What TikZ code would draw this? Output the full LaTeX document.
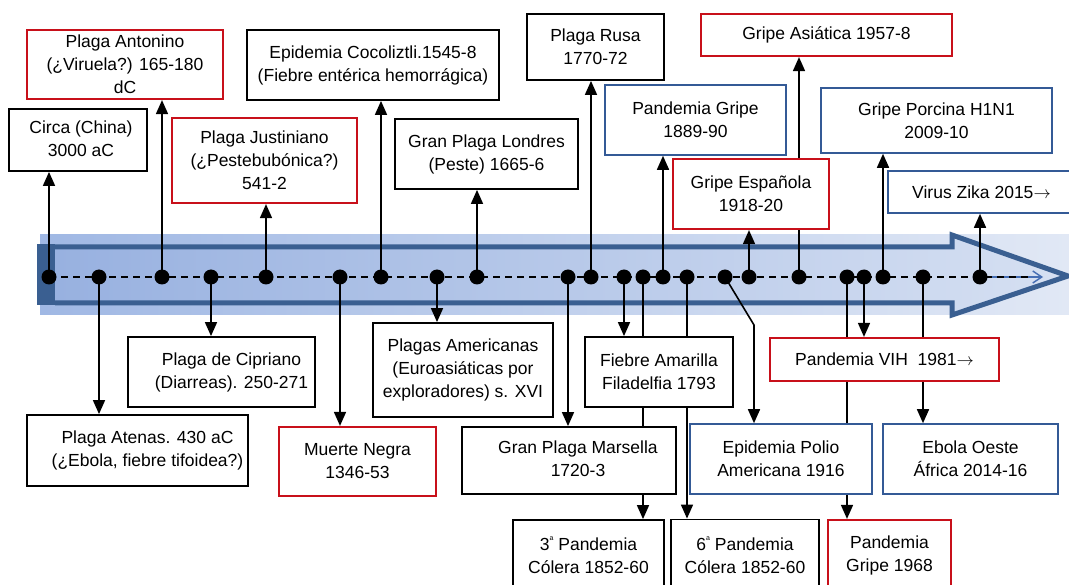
\documentclass[tikz,border=0pt]{standalone}
\usepackage{fontspec}
\setmainfont{Liberation Sans}
\usetikzlibrary{arrows.meta}
\definecolor{rd}{RGB}{200,16,26}
\definecolor{bl}{RGB}{52,90,150}
\definecolor{arrb}{RGB}{58,95,145}
\definecolor{bandL}{RGB}{160,184,228}
\definecolor{bandR}{RGB}{225,232,245}
\definecolor{fillL}{RGB}{152,177,224}
\definecolor{fillR}{RGB}{214,224,242}
\definecolor{tipblue}{RGB}{70,110,180}
\newcommand{\txtshiftright}[2]{\hspace*{#1}\begin{tabular}{@{}c@{}}#2\end{tabular}}
\pgfdeclarelayer{bandlayer}
\pgfdeclarelayer{connlayer}
\pgfsetlayers{bandlayer,connlayer,main}
\begin{document}
\begin{tikzpicture}[x=1pt,y=-1pt,
 box/.style={draw=black, line width=1.8pt, fill=white, align=center, inner sep=0pt, font=\fontsize{17.5}{23}\selectfont},
 rbox/.style={box, draw=rd, line width=2.2pt},
 bbox/.style={box, draw=bl, line width=1.6pt},
 conn/.style={line width=1.6pt, -{Triangle[width=12pt,length=14pt]}},
 dotn/.style={circle, fill=black, minimum size=15pt, inner sep=0pt},
 tline/.style={line width=1.6pt, dash pattern=on 7pt off 5pt}]
\useasboundingbox (0,0) rectangle (1069,585);
% band
\begin{pgfonlayer}{bandlayer}
\shade[left color=bandL, right color=bandR] (40,235) rectangle (1069,315);
\shade[left color=fillL, right color=fillR] (55,247) -- (952,247) -- (952,235) -- (1068,276) -- (952,315) -- (952,303) -- (55,303) -- cycle;
\draw[arrb, line width=5pt, line join=miter] (55,247) -- (952,247) -- (952,235) -- (1068,276) -- (952,315) -- (952,303) -- (55,303);
\fill[arrb] (37,244) rectangle (55,305);
\end{pgfonlayer}
% dots coordinates
\foreach \x in {49,99,162,211,266,340,381,437,477,568,591,624,643,663,687,725,749,799,847,864,883,923,980}
  \coordinate (p\x) at (\x,277);
\coordinate (tlineend) at (1030,277);
\coordinate (tip) at (1043,277);
\begin{pgfonlayer}{connlayer}
\draw[tipblue, line width=1.4pt, -{Straight Barb[length=9pt,width=12pt]}] (p980) -- (tip);
\draw[tline] (p49) -- (tlineend);
\end{pgfonlayer}
% boxes
\path
 (78,140) node[box, minimum width=138, minimum height=62] (circa) {\txtshiftright{6pt}{Circa (China)\\3000 aC}}
 (125,64.5) node[rbox, minimum width=196, minimum height=69] (anton) {Plaga Antonino\\(¿Viruela?) 165-180\\dC}
 (264.5,160.5) node[rbox, minimum width=185, minimum height=85] (just) {Plaga Justiniano\\(¿Pestebubónica?)\\541-2}
 (373,65) node[box, minimum width=252, minimum height=70] (coco) {Epidemia Cocoliztli.1545-8\\(Fiebre entérica hemorrágica)}
 (486.5,154) node[box, minimum width=183, minimum height=70] (lond) {Gran Plaga Londres\\(Peste) 1665-6}
 (595.5,47) node[box, minimum width=137, minimum height=66] (rusa) {Plaga Rusa\\1770-72}
 (695.5,120) node[bbox, minimum width=181, minimum height=70] (g1889) {Pandemia Gripe\\1889-90}
 (751,194) node[rbox, minimum width=156, minimum height=70] (espa) {Gripe Española\\1918-20}
 (826.5,35) node[rbox, minimum width=251, minimum height=42] (asia) {Gripe Asiática 1957-8}
 (936.5,120.5) node[bbox, minimum width=231, minimum height=65] (porc) {Gripe Porcina H1N1\\2009-10}
 (981.5,192) node[bbox, minimum width=187, minimum height=42] (zika) {Virus Zika 2015$\rightarrow$}
 (221.5,372) node[box, minimum width=187, minimum height=70] (cipr) {\txtshiftright{20pt}{Plaga de Cipriano\\(Diarreas). 250-271}}
 (137.5,450.5) node[box, minimum width=221, minimum height=71] (aten) {\txtshiftright{20pt}{Plaga Atenas. 430 aC\\(¿Ebola, fiebre tifoidea?)}}
 (357.5,461.5) node[rbox, minimum width=157, minimum height=69] (muer) {Muerte Negra\\1346-53}
 (463,370) node[box, minimum width=180, minimum height=94] (amer) {Plagas Americanas\\(Euroasiáticas por\\exploradores) s. XVI}
 (569,460.5) node[box, minimum width=214, minimum height=67] (mars) {\txtshiftright{18pt}{Gran Plaga Marsella\\1720-3}}
 (659,372) node[box, minimum width=148, minimum height=70] (fieb) {Fiebre Amarilla\\Filadelfia 1793}
 (588.5,555) node[box, minimum width=151, minimum height=70] (c3) {3\raisebox{0.55em}{\fontsize{7}{7}\selectfont a} Pandemia\\Cólera 1852-60}
 (745,555) node[box, minimum width=148, minimum height=71] (c6) {6\raisebox{0.55em}{\fontsize{7}{7}\selectfont a} Pandemia\\Cólera 1852-60}
 (889.5,555) node[rbox, minimum width=123, minimum height=70] (g1968) {Pandemia\\Gripe 1968}
 (781,459) node[bbox, minimum width=182, minimum height=70] (polio) {Epidemia Polio\\Americana 1916}
 (884.5,359.5) node[rbox, minimum width=229, minimum height=43] (vih) {Pandemia VIH\ \ 1981$\rightarrow$}
 (970.5,459) node[bbox, minimum width=175, minimum height=70] (ebola) {Ebola Oeste\\África 2014-16};
% connectors
\coordinate (bend) at (754,325);
\begin{pgfonlayer}{connlayer}
\foreach \a/\b in {49/circa,162/anton,266/just,381/coco,477/lond,591/rusa,663/g1889,749/espa,799/asia,883/porc,980/zika}
  \draw[conn] (p\a) -- (p\a |- \b.south);
\foreach \a/\b in {99/aten,211/cipr,340/muer,437/amer,568/mars,624/fieb,643/c3,687/c6,847/g1968,864/vih,923/ebola}
  \draw[conn] (p\a) -- (p\a |- \b.north);
\draw[conn] (p725) -- (bend) -- (bend |- polio.north);
\end{pgfonlayer}
\foreach \x in {49,99,162,211,266,340,381,437,477,568,591,624,643,663,687,725,749,799,847,864,883,923,980}
  \node[dotn] (dot\x) at (p\x) {};
\end{tikzpicture}
\end{document}
